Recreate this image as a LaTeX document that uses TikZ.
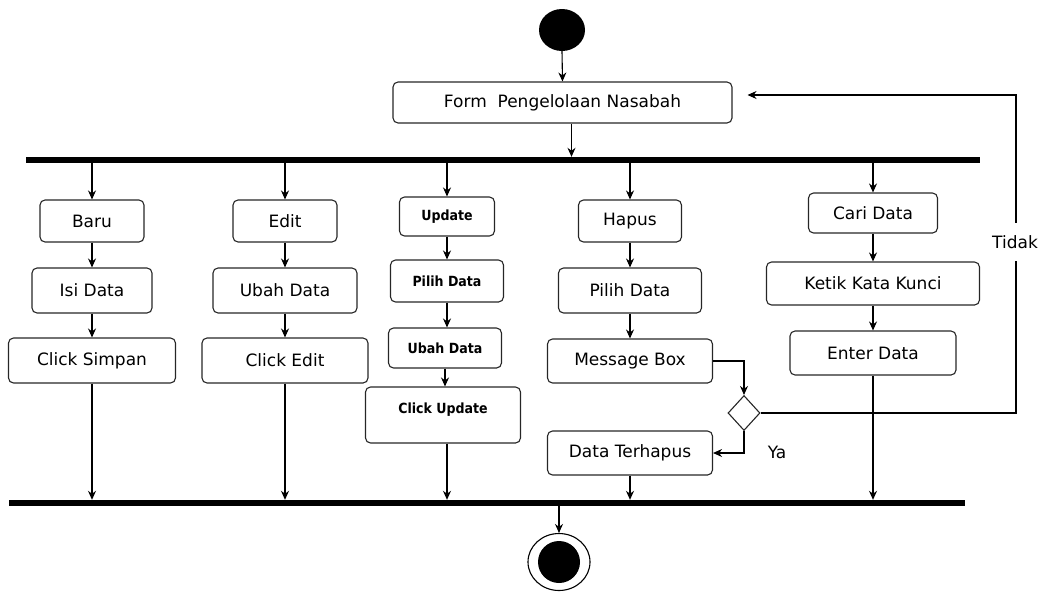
\documentclass[tikz,border=0pt]{standalone}
\usepackage{fontspec}
\setmainfont{DejaVu Sans}
\newfontfamily\condfont{DejaVu Sans Condensed}
\usetikzlibrary{arrows.meta,shapes.geometric}
\begin{document}
\begin{tikzpicture}[x=1pt,y=-1pt,
 act/.style={draw=black!85, rounded corners=5pt, line width=1.1pt, font=\fontsize{17}{20}\selectfont, inner sep=0pt},
 actb/.style={act, font=\fontsize{14}{16}\selectfont\condfont\bfseries},
 arr/.style={-{Stealth[length=9pt,width=8pt]}, line width=1.1pt},
 bar/.style={fill=black, minimum height=6pt, inner sep=0pt},
 lbl/.style={font=\fontsize{17}{20}\selectfont, inner sep=1pt}]
\useasboundingbox (0,0) rectangle (1044,592);

% start / end
\node[ellipse, fill=black, minimum width=46pt, minimum height=42pt, inner sep=0pt] (start) at (562,30) {};
\node[ellipse, draw, line width=1.1pt, minimum width=62pt, minimum height=57pt, inner sep=0pt] (end) at (559,562) {};
\node[ellipse, fill=black, minimum width=42pt, minimum height=42pt, inner sep=0pt] (endin) at (559,562) {};

% form
\node[act, minimum width=339pt, minimum height=41pt] (form) at (562.5,102.5) {Form\ \ Pengelolaan Nasabah};

% bars
\node[bar, minimum width=954pt] (fork) at (503,160) {};
\node[bar, minimum width=956pt] (join) at (487,503) {};

% column 1
\node[act, minimum width=104pt, minimum height=42pt] (baru) at (92,221) {Baru};
\node[act, minimum width=120pt, minimum height=45pt] (isi) at (92,290.5) {Isi Data};
\node[act, minimum width=167pt, minimum height=45pt] (simpan) at (92,360.5) {Click Simpan};

% column 2
\node[act, minimum width=104pt, minimum height=42pt] (edit) at (285,221) {Edit};
\node[act, minimum width=144pt, minimum height=45pt] (ubah) at (285,290.5) {Ubah Data};
\node[act, minimum width=166pt, minimum height=45pt] (clickedit) at (285,360.5) {Click Edit};

% column 3
\node[actb, minimum width=95pt, minimum height=39pt] (update) at (447,216.5) {Update};
\node[actb, minimum width=113pt, minimum height=42pt] (pilihu) at (447,281) {Pilih Data};
\node[actb, minimum width=113pt, minimum height=40pt] (ubahu) at (445,348) {Ubah Data};
\node[actb, minimum width=155pt, minimum height=56pt, text depth=14pt] (clickupd) at (443,415) {Click Update};

% column 4
\node[act, minimum width=103pt, minimum height=42pt] (hapus) at (630,221) {Hapus};
\node[act, minimum width=143pt, minimum height=45pt] (pilihh) at (630,290.5) {Pilih Data};
\node[act, minimum width=165pt, minimum height=44pt] (msg) at (630,361) {Message Box};
\node[act, minimum width=165pt, minimum height=44pt] (terhapus) at (630,453) {Data Terhapus};
\node[diamond, draw=black!85, line width=1.1pt, minimum width=32pt, minimum height=35pt, inner sep=0pt] (dec) at (744,413) {};

% column 5
\node[act, minimum width=129pt, minimum height=40pt] (cari) at (873,213) {Cari Data};
\node[act, minimum width=213pt, minimum height=43pt] (ketik) at (873,283.5) {Ketik Kata Kunci};
\node[act, minimum width=166pt, minimum height=44pt] (enter) at (873,353) {Enter Data};

% flow
\draw[arr] (start.south) -- (form.north);
\draw[arr] ([xshift=9pt]form.south) -- ([xshift=9pt]fork.north -| form.south);

\draw[arr] (fork.south -| baru.north) -- (baru.north);
\draw[arr] (baru) -- (isi);
\draw[arr] (isi) -- (simpan);
\draw[arr] (simpan.south) -- (join.north -| simpan.south);

\draw[arr] (fork.south -| edit.north) -- (edit.north);
\draw[arr] (edit) -- (ubah);
\draw[arr] (ubah) -- (clickedit);
\draw[arr] (clickedit.south) -- (join.north -| clickedit.south);

\draw[arr] (fork.south -| update.north) -- (update.north);
\draw[arr] (update) -- (pilihu);
\draw[arr] (pilihu) -- (ubahu.north -| pilihu.south);
\draw[arr] (ubahu.south) -- (clickupd.north -| ubahu.south);
\draw[arr] (clickupd.south -| update.south) -- (join.north -| update.south);

\draw[arr] (fork.south -| hapus.north) -- (hapus.north);
\draw[arr] (hapus) -- (pilihh);
\draw[arr] (pilihh) -- (msg);
\draw[arr] (msg.east) -| (dec.north);
\draw[arr] (dec.south) |- (terhapus.east);
\draw[arr] (terhapus.south) -- (join.north -| terhapus.south);

\coordinate (tk) at (1016,95);
\draw[arr, shorten >=15pt] (dec.east) -| (tk) -- (tk -| form.east);
\node[lbl, fill=white, inner ysep=12pt] (tidak) at (1015,242) {Tidak};
\node[lbl] (ya) at (777,452) {Ya};

\draw[arr] (fork.south -| cari.north) -- (cari.north);
\draw[arr] (cari) -- (ketik);
\draw[arr] (ketik) -- (enter);
\draw[arr] (enter.south) -- (join.north -| enter.south);

\draw[arr] (join.south -| end.north) -- (end.north);
\end{tikzpicture}
\end{document}
